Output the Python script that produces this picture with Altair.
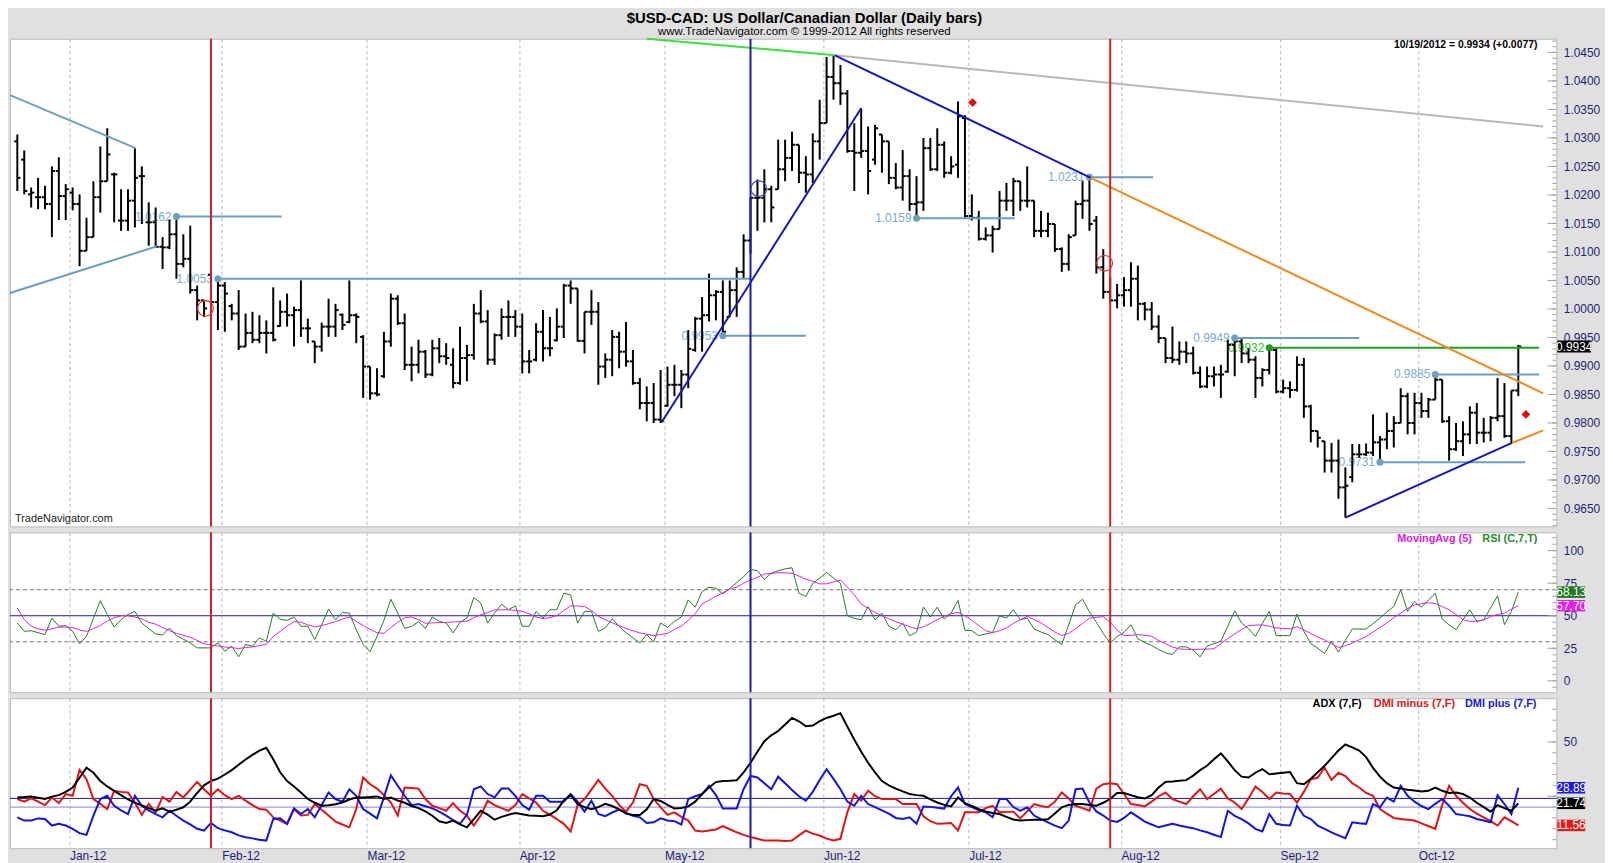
import json
import altair as alt
import pandas as pd

FONT = "Liberation Sans"
NAVY = "#1f1f78"
W = 1557
H_PRICE, H_RSI, H_ADX = 491, 161, 151
XDOM = [-1.06, 222.5]

# ---------------- data (daily bars, 21-Dec-2011 .. 19-Oct-2012) ----------------
MONTH_LABELS = ["Jan-12", "Feb-12", "Mar-12", "Apr-12", "May-12", "Jun-12",
                "Jul-12", "Aug-12", "Sep-12", "Oct-12"]
MONTH_START = [8, 30, 51, 73, 94, 117, 138, 160, 183, 203]

HIGH = [
1.0306,1.0278,1.0213,1.0230,1.0216,1.0250,1.0266,1.0219,1.0213,1.0201,
1.0160,1.0224,1.0285,1.0317,1.0239,1.0210,1.0210,1.0282,1.0250,1.0187,
1.0178,1.0126,1.0157,1.0162,1.0131,1.0146,1.0041,1.0015,1.0070,1.0053,
1.0047,1.0009,1.0033,0.9992,0.9995,0.9989,0.9980,1.0038,1.0015,1.0027,
1.0004,1.0050,0.9983,0.9943,0.9976,1.0018,1.0009,0.9992,1.0050,0.9992,
0.9954,0.9899,0.9896,0.9960,1.0027,1.0024,0.9992,0.9934,0.9946,0.9928,
0.9946,0.9949,0.9940,0.9931,0.9969,0.9937,1.0009,1.0033,0.9998,0.9957,
1.0001,1.0015,0.9998,0.9992,0.9928,0.9975,0.9998,0.9986,1.0001,1.0044,
1.0050,1.0036,0.9995,1.0033,1.0012,0.9922,0.9963,0.9960,0.9977,0.9928,
0.9879,0.9864,0.9870,0.9893,0.9899,0.9902,0.9893,0.9963,0.9986,1.0021,
1.0062,1.0033,1.0050,1.0050,1.0073,1.0131,1.0195,1.0227,1.0245,1.0216,
1.0297,1.0297,1.0311,1.0288,1.0268,1.0308,1.0367,1.0442,1.0445,1.0428,
1.0384,1.0326,1.0352,1.0320,1.0323,1.0306,1.0294,1.0256,1.0279,1.0245,
1.0233,1.0300,1.0300,1.0317,1.0294,1.0268,1.0364,1.0340,1.0201,1.0172,
1.0143,1.0146,1.0207,1.0221,1.0230,1.0224,1.0250,1.0190,1.0172,1.0169,
1.0149,1.0108,1.0131,1.0190,1.0224,1.0231,1.0163,1.0105,1.0056,1.0044,
1.0056,1.0082,1.0076,1.0012,1.0012,0.9989,0.9949,0.9969,0.9943,0.9943,
0.9934,0.9899,0.9899,0.9899,0.9902,0.9946,0.9949,0.9949,0.9931,0.9917,
0.9896,0.9932,0.9931,0.9876,0.9873,0.9917,0.9914,0.9832,0.9786,0.9768,
0.9765,0.9771,0.9722,0.9763,0.9763,0.9764,0.9815,0.9777,0.9818,0.9812,
0.9861,0.9853,0.9853,0.9853,0.9844,0.9885,0.9876,0.9812,0.9800,0.9803,
0.9829,0.9835,0.9809,0.9812,0.9879,0.9870,0.9857,0.9937]

LOW = [
1.0207,1.0201,1.0178,1.0175,1.0175,1.0126,1.0156,1.0156,1.0173,1.0075,
1.0102,1.0126,1.0169,1.0224,1.0152,1.0137,1.0137,1.0143,1.0149,1.0111,
1.0108,1.0070,1.0105,1.0053,1.0073,1.0027,0.9980,0.9986,1.0009,0.9963,
0.9960,0.9980,0.9928,0.9934,0.9940,0.9940,0.9922,0.9943,0.9969,0.9969,
0.9934,0.9951,0.9940,0.9905,0.9925,0.9951,0.9951,0.9963,0.9975,0.9940,
0.9844,0.9841,0.9847,0.9879,0.9934,0.9972,0.9893,0.9873,0.9887,0.9879,
0.9882,0.9905,0.9902,0.9861,0.9867,0.9873,0.9911,0.9975,0.9902,0.9902,
0.9946,0.9951,0.9951,0.9887,0.9887,0.9908,0.9908,0.9917,0.9943,0.9949,
1.0009,0.9943,0.9922,0.9972,0.9867,0.9879,0.9882,0.9896,0.9899,0.9867,
0.9824,0.9803,0.9800,0.9800,0.9829,0.9847,0.9826,0.9861,0.9925,0.9925,
0.9978,0.9980,0.9953,0.9986,0.9986,1.0053,1.0097,1.0137,1.0152,1.0152,
1.0210,1.0224,1.0242,1.0221,1.0204,1.0221,1.0262,1.0326,1.0367,1.0358,
1.0274,1.0207,1.0265,1.0201,1.0253,1.0239,1.0219,1.0210,1.0190,1.0172,
1.0159,1.0172,1.0242,1.0242,1.0230,1.0236,1.0230,1.0160,1.0155,1.0120,
1.0120,1.0099,1.0140,1.0172,1.0163,1.0172,1.0178,1.0126,1.0126,1.0126,
1.0100,1.0065,1.0067,1.0129,1.0158,1.0137,1.0062,1.0018,1.0012,1.0001,
1.0004,1.0004,0.9980,0.9980,0.9963,0.9940,0.9905,0.9905,0.9902,0.9905,
0.9885,0.9861,0.9861,0.9864,0.9844,0.9888,0.9882,0.9905,0.9905,0.9844,
0.9864,0.9885,0.9852,0.9852,0.9844,0.9855,0.9809,0.9766,0.9757,0.9713,
0.9713,0.9667,0.9634,0.9696,0.9739,0.9742,0.9742,0.9731,0.9754,0.9757,
0.9800,0.9780,0.9780,0.9809,0.9809,0.9841,0.9800,0.9734,0.9751,0.9742,
0.9763,0.9763,0.9766,0.9768,0.9803,0.9774,0.9764,0.9847]

OPEN = [
1.0294,1.0262,1.0201,1.0196,1.0196,1.0184,1.0242,1.0198,1.0204,1.0184,
1.0102,1.0126,1.0196,1.0224,1.0236,1.0155,1.0155,1.0190,1.0233,1.0152,
1.0152,1.0109,1.0108,1.0131,1.0079,1.0088,1.0033,1.0015,1.0060,1.0012,
1.0041,1.0005,0.9992,0.9934,0.9958,0.9946,0.9958,0.9958,0.9970,0.9995,
0.9989,0.9998,0.9966,0.9943,0.9934,0.9969,0.9969,0.9990,0.9977,0.9989,
0.9951,0.9899,0.9852,0.9882,0.9943,1.0018,0.9975,0.9902,0.9902,0.9925,
0.9885,0.9931,0.9917,0.9902,0.9870,0.9914,0.9919,0.9992,0.9978,0.9911,
0.9954,0.9986,0.9986,0.9969,0.9908,0.9911,0.9960,0.9931,0.9945,0.9969,
1.0041,1.0036,0.9944,0.9995,0.9995,0.9899,0.9911,0.9951,0.9925,0.9908,
0.9870,0.9835,0.9835,0.9806,0.9830,0.9867,0.9867,0.9885,0.9928,0.9983,
0.9989,1.0024,1.0030,0.9986,1.0033,1.0065,1.0120,1.0195,1.0195,1.0210,
1.0210,1.0245,1.0265,1.0288,1.0239,1.0236,1.0294,1.0326,1.0407,1.0396,
1.0378,1.0277,1.0274,1.0277,1.0262,1.0306,1.0294,1.0230,1.0213,1.0233,
1.0184,1.0187,1.0282,1.0245,1.0288,1.0239,1.0253,1.0335,1.0163,1.0160,
1.0123,1.0129,1.0140,1.0190,1.0190,1.0224,1.0190,1.0190,1.0137,1.0137,
1.0149,1.0105,1.0079,1.0129,1.0184,1.0190,1.0155,1.0073,1.0030,1.0015,
1.0024,1.0033,1.0053,1.0009,0.9999,0.9969,0.9949,0.9914,0.9911,0.9925,
0.9922,0.9888,0.9864,0.9882,0.9885,0.9890,0.9937,0.9943,0.9922,0.9911,
0.9879,0.9893,0.9928,0.9855,0.9861,0.9858,0.9902,0.9829,0.9786,0.9768,
0.9734,0.9734,0.9687,0.9705,0.9745,0.9745,0.9748,0.9766,0.9771,0.9786,
0.9800,0.9847,0.9800,0.9835,0.9821,0.9841,0.9876,0.9803,0.9754,0.9768,
0.9780,0.9818,0.9783,0.9783,0.9809,0.9812,0.9777,0.9857]

CLOSE = [
1.0230,1.0207,1.0204,1.0196,1.0184,1.0242,1.0198,1.0210,1.0184,1.0102,
1.0126,1.0196,1.0224,1.0271,1.0236,1.0155,1.0190,1.0230,1.0233,1.0152,
1.0109,1.0108,1.0131,1.0079,1.0088,1.0033,1.0015,1.0001,1.0012,1.0041,
1.0027,0.9992,0.9934,0.9958,0.9946,0.9958,0.9958,0.9946,0.9995,0.9989,
0.9998,0.9966,0.9966,0.9934,0.9969,0.9969,0.9998,0.9972,0.9989,0.9986,
0.9899,0.9852,0.9850,0.9943,1.0018,0.9975,0.9902,0.9902,0.9925,0.9885,
0.9931,0.9917,0.9914,0.9870,0.9914,0.9919,0.9992,0.9978,0.9911,0.9954,
0.9986,0.9986,0.9969,0.9908,0.9908,0.9960,0.9931,0.9931,0.9969,1.0041,
1.0036,0.9944,0.9995,0.9995,0.9899,0.9911,0.9951,0.9925,0.9908,0.9870,
0.9835,0.9835,0.9806,0.9803,0.9867,0.9867,0.9885,0.9930,0.9983,0.9989,
1.0024,1.0030,0.9960,1.0033,1.0065,1.0120,1.0195,1.0195,1.0210,1.0178,
1.0245,1.0265,1.0288,1.0239,1.0236,1.0294,1.0326,1.0407,1.0396,1.0378,
1.0277,1.0274,1.0277,1.0242,1.0317,1.0294,1.0230,1.0213,1.0233,1.0184,
1.0187,1.0282,1.0245,1.0288,1.0239,1.0250,1.0338,1.0163,1.0160,1.0123,
1.0129,1.0140,1.0190,1.0190,1.0224,1.0190,1.0190,1.0137,1.0137,1.0149,
1.0105,1.0079,1.0126,1.0184,1.0190,1.0149,1.0073,1.0030,1.0015,1.0024,
1.0033,1.0053,1.0009,0.9999,0.9969,0.9949,0.9914,0.9911,0.9925,0.9922,
0.9888,0.9864,0.9882,0.9885,0.9885,0.9937,0.9943,0.9922,0.9911,0.9879,
0.9893,0.9928,0.9855,0.9861,0.9858,0.9902,0.9829,0.9786,0.9774,0.9734,
0.9734,0.9687,0.9690,0.9745,0.9745,0.9748,0.9766,0.9771,0.9786,0.9800,
0.9847,0.9800,0.9835,0.9821,0.9841,0.9876,0.9803,0.9754,0.9768,0.9780,
0.9818,0.9783,0.9783,0.9809,0.9812,0.9777,0.9857,0.9934]

RSI = [
44.4,38.0,38.5,37,35.5,48.2,41.9,42.4,38,28.4,
34.2,48,61.5,51,41.3,47,51,53.3,44.4,40,
36,35.2,40.6,34.7,32,29.1,25.3,25.3,25.3,29.1,
22.8,26.6,18.4,27.9,26.6,33.0,30.4,52.0,47.5,46.4,
49.0,41.9,41.9,31.7,43,55.1,46.9,52.5,52.0,39.3,
28,22.3,34,46.4,62.7,52,40.3,41.9,45.4,40.3,
49.0,45.7,44.4,36.8,45,48.2,64.0,59.7,44.4,52,
58.9,54.6,57.6,41.9,41.9,53.3,48.2,54.6,54.6,67.3,
66.0,44.4,53.3,53.3,38.0,40.6,47.7,41.9,37,33,
29.1,35.5,29.9,44.4,41.1,45.7,49.0,62.2,56.6,68.6,
71.9,71.1,66.8,71,75.4,80,85.6,84.6,78.0,82.6,
84.6,86,86.9,67.3,64.8,74.9,79,83.3,79,74.9,
50.0,48,46.9,57.1,46.9,52.0,41.9,39.3,44.4,34.7,
37.3,56.6,49.0,56.6,47.5,52.0,61.7,38.8,38.5,34.7,
36,37,50.0,48.2,54.6,46.9,48.2,39.8,37.5,35.5,
31.5,27.9,43,58.4,62.7,53,45,36.3,29.1,34,
37.3,43.1,32.2,29.5,27.1,24,21.5,20.2,26.1,26.1,
23.5,18.4,26.6,28.5,30.4,42,53.8,44.4,40,34.2,
44,53.3,34.7,34.7,34.7,51.3,38.0,28.6,25,21.0,
30.4,22.0,31,39.8,39.8,39.8,44,48.2,53,57.1,
69.8,53.3,60.9,56.6,62,67.3,47.5,43,39.3,47,
54.6,45.7,46.9,56,65.3,43.1,53.3,68.13]

RSI_MA = [
55.9,47,42,40,38.8,40,41.3,41.3,41,39,
38,40,42.5,46,48.5,50,50,49,47.5,45,
43.5,41,38.5,36.5,35,33.5,31,28.5,27.5,26.8,
26,25.5,24.8,25.5,26.1,27,28,34,38,42,
45.5,45,43,41.5,42.5,43.9,45.5,47.5,49,45.7,
42.5,39.5,37,36.5,41,45,48.5,49,47,44.2,
44.5,44.7,44.9,45.2,45.5,45.8,48.5,50.8,52.5,54.4,
54.6,54.6,54,53.5,51.5,49,47.8,48.5,50,54,
57.6,57.5,57.1,54,49.5,47,44.5,42.5,40.2,38.5,
36.8,35.8,34.7,35.5,36.5,39.5,42,46.5,51.5,59,
62,65,67.5,70.5,72,75,77.5,79.5,82,82.6,
83.1,83,82.6,80.5,78,76.5,74.5,74.5,76,77.5,
72,66,59,55.5,52.5,50,47.5,45.5,43.5,41.5,
40,41.5,44,47,49.5,51.5,52.6,50,46.5,42.5,
38.5,37,38.5,40.6,44,47,49.5,47,44.5,41,
37.5,34.7,36.5,40,44,48.2,48.8,49.3,45,39,
34.7,35,35.5,35,34.2,31,28.5,26,24.5,24.2,
24,24.2,24.4,24.6,28.5,32.5,36,39.5,42.4,42.8,
43,42,40.6,40.2,39.8,41.5,39,36.5,33.5,31.5,
28.5,25.5,27,29,31.5,34,37.5,41,44.5,48.5,
52,55.5,58.4,59.2,60,59.5,57,54.6,51,47,
45.7,45.7,46.7,49.5,51,52,55,57.70]

ADX = [
24.4,24.6,24.9,24.3,23.7,24.8,25.5,27,29,33.5,
38.1,35.8,32,29.5,27.5,25.5,23.5,22,20.8,19.5,
18.4,19.4,17.9,18.8,19.9,22.5,26.5,30,32,33.1,
35,37,39.5,41.9,44,46,47.3,42,36,32,
29.5,26.7,23.7,22,20.6,20.8,21.3,22.1,23.5,24.4,
24.4,24.6,24.9,23.7,24.4,23,22,20.5,19.5,18,
16,13.5,12.7,13.8,12,10.7,14.5,18.3,16.5,14.2,
15.5,16.5,17.3,16.7,16.1,16,15.8,16.6,18.5,23,
25.5,21.5,20,19,20,21.5,20.5,19,17,16.4,
16.4,19,23.7,22.8,21,19.4,19.6,20.3,22.5,26,
29,31.5,32,32.1,32.3,36,40.4,45.5,50.3,53,
55,58,61,59.5,57.2,57.5,59.5,61,62,63.2,
57,51.1,45.5,40.4,36,32,30,28.5,27.2,26,
25.5,25.2,23.5,22.1,21,20.3,24.4,21.8,20.5,19,
18,17.3,16.8,15.5,14.3,13.8,14,14.2,14.2,14.4,
17,19.9,21,21.4,21.4,21,20.6,22,23.7,26.5,
26.5,25.5,24.5,24,25.5,29,31.6,31.8,32.1,32.4,
34.5,37,39,42,44.7,41,37,34,33.6,35.8,
37.5,35.1,35.5,35.8,36.1,31,30.5,33,36,39,
42.5,46,48.8,47.5,46,43,38,34,31,29,
28.5,28,27.6,27.2,27.5,29,27.5,26.5,26.7,26,
24.4,22,20,17.9,20.9,19.5,18.3,21.74]

DMI_MINUS = [
23.7,22.5,24.0,22.5,20.9,24.4,21.8,26.0,25.2,37.1,
32.8,23.7,21.5,19.1,27.5,27,26.7,22.1,16.4,21.4,
17.6,24.7,22.5,27.0,24.4,28,31.6,28.2,25.2,28.2,
25.5,23.7,25.2,23,20.9,19.1,18.8,15.3,13.8,12.3,
19.1,16.1,16.4,21.4,18.8,16.1,13.3,12,10.7,19.1,
33.6,30.5,28.5,25.5,22.1,16.1,29.0,28.8,28.5,23.7,
20.6,19.5,18.3,21.8,18.3,16,11.5,16.1,22.9,20.9,
19.5,18.3,20.9,26.0,24,22.1,18.3,16.5,14.5,12.3,
8.8,20.9,23.7,28,32.5,28.5,25.2,21,17.9,22.1,
30.5,29.8,23.7,20,16.4,17.6,15.5,13.8,9.2,8.8,
9.2,9.7,11.2,9.8,8.4,7.2,6.2,5.4,4.6,4.6,
4.6,4.4,4.6,7,9.2,7.8,6.9,5.5,4.6,5.4,
17.6,26.0,22.9,27.5,25,23.7,23.7,23.7,21.4,21.4,
21.4,15.8,13.5,12.3,12.5,12.7,9.2,17.6,17.6,17.6,
19.5,20.6,17.6,17.8,17.9,14.8,18,21.4,20.5,19.9,
22.5,26.7,24,20.6,19.5,18.3,28.5,30.5,31,30.5,
26,21.4,21,20.3,22.5,25,26.7,23.7,22.5,21.4,
25,28.2,23.7,26,28.5,24,22.1,19.1,24,29.5,
27,23.7,26.7,26.3,26.0,22.1,27,32.8,33.6,38.1,
32.5,35.8,34.3,31,29,26.5,25.2,19.1,17,15,
14.5,14.2,13.8,12.5,11.3,10.0,21,29.8,25.2,22,
19.1,17,15.3,13.5,11.5,15.3,13.5,11.56]

DMI_PLUS = [
15.3,13.8,13.8,14.8,14.5,11.5,12.3,11.5,10,8,
7.2,16.1,23.7,25.2,20.6,18.5,16.8,25.2,20.6,18.5,
16.8,15.3,18.3,16,13.8,12,10,9.2,12.7,10.3,
9.3,8.4,7,6.1,5.6,5,4.6,14.5,14.8,12.3,
19.4,16.8,19.1,15.3,21,26.7,23.7,22.5,28.2,25.2,
19.1,17,14.8,24.5,34.6,29.8,25.2,20.9,21.4,20.4,
19.4,17.9,16.1,14,12.3,16.4,28.2,29.5,26,24.5,
28.5,28.5,25.2,20.9,18.8,25.2,25.2,22.5,22.5,22.5,
26.0,22.5,17.9,22.9,16.8,15.8,17.5,18.8,17.3,16,
15.3,12.7,13,14.8,13.8,13.5,12,23.7,25,26,
29.8,25.5,19.4,19.4,19.4,28.2,34.3,33.6,31,28.2,
34,31,27.9,25,22.9,27,32.5,37.4,33,28.2,
22.5,20.6,25.2,21.4,20,18.5,17,15,14.5,15.3,
12.3,20.3,20.1,19.7,19.3,25,29,21.4,20,18.5,
17.6,15.3,23.7,23.7,20,18.3,19.9,16.1,14.5,13,
11.5,10.3,13.8,28.2,28.5,22.1,18,16.1,13.8,13.2,
15,17.6,15.5,13.3,12,10.7,11.5,12.3,11.5,10.8,
10.3,9.3,8.4,7.3,6.2,18.3,16,14.5,12.5,10,
8.8,16.8,12.3,11.8,11.5,20.6,16,14.5,11.5,10,
8.4,7,5.7,13,12.6,12.3,21.4,19.9,24.4,22.5,
29.8,25.2,22.5,20.5,19.1,21.5,23.7,20.6,16.8,16.3,
15.8,14.5,13.8,13,25.5,21.4,16.8,28.89]

# support / resistance levels drawn on the price panel
LEVEL_VALUE = [1.0162, 1.0053, 0.9953, 1.0159, 1.0231, 0.9949, 0.9932, 0.9885, 0.9731]
LEVEL_START = [23, 29, 102, 130, 155, 176, 181, 205, 197]
LEVEL_END = [38.2, 106, 114, 144.2, 164.2, 194, 220, 220, 218]
LEVEL_GREEN = [False, False, False, False, False, False, True, False, False]

# trend lines (bar index, price)
TL_X1 = [-1.06, -1.06, 91.0, 118.2, 93.2, 118.2, 192.0, 155.2, 216.1]
TL_Y1 = [1.0375, 1.0028, 1.0474, 1.0445, 0.9802, 1.0445, 0.9634, 1.0230, 0.9765]
TL_X2 = [17.1, 20.2, 118.2, 220.6, 122.0, 155.2, 216.1, 220.6, 220.6]
TL_Y2 = [1.0282, 1.0110, 1.0445, 1.0320, 1.0352, 1.0230, 0.9765, 0.9852, 0.9787]
TL_COLOR = ["#6b9ec3", "#6b9ec3", "#3de03d", "#b8b8b8", "#1414c4", "#1414c4",
            "#1414c4", "#f08a1c", "#f08a1c"]

VLINE_X = [28, 106, 158]
VLINE_COLOR = ["#cc2222", "#1a1ab4", "#cc2222"]

CIRCLE_X = [27.2, 107.2, 157.2]
CIRCLE_Y = [1.0001, 1.0211, 1.0080]
CIRCLE_COLOR = ["#e03030", "#4646c8", "#e03030"]

DIAMOND_X = [138.1, 218.1]
DIAMOND_Y = [1.0362, 0.9815]

# ---------------- frames ----------------
n = len(CLOSE)
bars = pd.DataFrame({"i": list(range(n)), "o": OPEN, "h": HIGH, "l": LOW, "c": CLOSE})
ind = pd.DataFrame({"i": list(range(n)), "rsi": RSI, "ma": RSI_MA, "adx": ADX,
                    "dmim": DMI_MINUS, "dmip": DMI_PLUS})
levels = pd.DataFrame({
    "v": LEVEL_VALUE, "s": LEVEL_START, "e": LEVEL_END,
    "t": ["%.4f" % v for v in LEVEL_VALUE],
    "lc": ["#1ea01e" if g else "#6b9ec3" for g in LEVEL_GREEN],
    "tc": ["#2ec02e" if g else "#78aad0" for g in LEVEL_GREEN],
})
trend = pd.DataFrame({"x1": TL_X1, "y1": TL_Y1, "x2": TL_X2, "y2": TL_Y2, "col": TL_COLOR})
vlines = pd.DataFrame({"x": VLINE_X, "col": VLINE_COLOR})
circles = pd.DataFrame({"x": CIRCLE_X, "y": CIRCLE_Y, "col": CIRCLE_COLOR})
diamonds = pd.DataFrame({"x": DIAMOND_X, "y": DIAMOND_Y})

xs = alt.Scale(domain=XDOM, nice=False, zero=False)
ys_price = alt.Scale(domain=[0.96186, 1.0474], nice=False, zero=False)
ys_rsi = alt.Scale(domain=[-8.8, 114.1], nice=False, zero=False)
ys_adx = alt.Scale(domain=[1.1, 70.1], nice=False, zero=False)

grid_vals = [m - 0.45 for m in MONTH_START]
label_expr = "%s[indexof(%s, round(datum.value + 0.45))]" % (
    json.dumps(MONTH_LABELS), json.dumps(MONTH_START))


def x_axis(show):
    return alt.Axis(values=grid_vals, grid=True, gridDash=[3, 3], gridColor="#b4b4b4",
                    gridWidth=1, ticks=False, domain=False, title=None, labels=show,
                    labelExpr=label_expr, labelAlign="left", labelBaseline="top",
                    labelColor=NAVY, labelFont=FONT, labelFontSize=12, labelPadding=2,
                    labelOverlap=False, labelFlush=False)


def y_axis(values, fmt):
    return alt.Axis(orient="right", values=values, format=fmt, title=None, grid=False,
                    ticks=False, domain=False, labelColor=NAVY, labelFont=FONT,
                    labelFontSize=12, labelPadding=7, labelOverlap=False, labelFlush=False)


PRICE_MAJOR = [round(0.965 + 0.005 * k, 4) for k in range(17)]
PRICE_MINOR = [round(0.962 + 0.001 * k, 4) for k in range(86)]

XA_TOP = x_axis(False)
XA_BOTTOM = x_axis(True)
YA_PRICE = y_axis(PRICE_MAJOR, ".4f")
YA_RSI = y_axis([0, 25, 50, 75, 100], "d")
YA_ADX = y_axis([50], "d")


def X(field, xa):
    return alt.X(field, scale=xs, axis=xa)


def inner_ticks(values, length, ys, ya):
    d = pd.DataFrame({"v": values})
    return alt.Chart(d).mark_rule(color="#a0a0a0", strokeWidth=1).encode(
        x=alt.value(W - length), x2=alt.value(W),
        y=alt.Y("v:Q", scale=ys, axis=ya))


def value_boxes(vals, texts, colors, half, ys, ya, width):
    d = pd.DataFrame({"v": vals, "t": texts, "col": colors})
    base = alt.Chart(d).transform_calculate(y0="datum.v - %f" % half, y1="datum.v + %f" % half)
    box = base.mark_rect().encode(
        x=alt.value(W + 1), x2=alt.value(W + 1 + width),
        y=alt.Y("y0:Q", scale=ys, axis=ya), y2="y1:Q",
        color=alt.Color("col:N", scale=None))
    txt = alt.Chart(d).mark_text(color="white", font=FONT, fontSize=12, align="center",
                                 baseline="middle").encode(
        x=alt.value(W + 1 + width / 2), y=alt.Y("v:Q", scale=ys, axis=ya), text="t:N")
    return [box, txt]


def vline_layer(xa):
    return alt.Chart(vlines).mark_rule(strokeWidth=2).encode(
        x=X("x:Q", xa), color=alt.Color("col:N", scale=None))


def legend_text(items, y):
    layers = []
    for txt, xr, col in items:
        layers.append(alt.Chart(pd.DataFrame({"t": [txt]})).mark_text(
            align="right", baseline="middle", font=FONT, fontSize=11, fontWeight="bold",
            color=col).encode(x=alt.value(xr), y=alt.value(y), text="t:N"))
    return layers


# ---------------- price panel ----------------
def PY(field):
    return alt.Y(field, scale=ys_price, axis=YA_PRICE)


lvl_text = alt.Chart(levels).mark_text(align="right", baseline="middle", dx=-5,
                                       font=FONT, fontSize=12).encode(
    x=X("s:Q", XA_TOP), y=PY("v:Q"), text="t:N", color=alt.Color("tc:N", scale=None))
hl = alt.Chart(bars).mark_rule(color="black", strokeWidth=2).encode(
    x=X("i:Q", XA_TOP), y=PY("l:Q"), y2="h:Q")
op = alt.Chart(bars).transform_calculate(xo="datum.i - 0.45").mark_rule(
    color="black", strokeWidth=2).encode(x=X("xo:Q", XA_TOP), x2="i:Q", y=PY("o:Q"))
cl = alt.Chart(bars).transform_calculate(xc="datum.i + 0.45").mark_rule(
    color="black", strokeWidth=2).encode(x=X("i:Q", XA_TOP), x2="xc:Q", y=PY("c:Q"))
lvl_lines = alt.Chart(levels).mark_rule(strokeWidth=2).encode(
    x=X("s:Q", XA_TOP), x2="e:Q", y=PY("v:Q"), color=alt.Color("lc:N", scale=None))
lvl_dots = alt.Chart(levels).mark_circle(size=50, opacity=1).encode(
    x=X("s:Q", XA_TOP), y=PY("v:Q"), color=alt.Color("lc:N", scale=None))
trend_lines = alt.Chart(trend).mark_rule(strokeWidth=2).encode(
    x=X("x1:Q", XA_TOP), x2="x2:Q", y=PY("y1:Q"), y2="y2:Q",
    color=alt.Color("col:N", scale=None))
circ = alt.Chart(circles).mark_point(filled=False, size=250, strokeWidth=1.2, opacity=1).encode(
    x=X("x:Q", XA_TOP), y=PY("y:Q"), color=alt.Color("col:N", scale=None))
diam = alt.Chart(diamonds).mark_point(shape="diamond", filled=True, size=80, color="#e01010",
                                       opacity=1).encode(x=X("x:Q", XA_TOP), y=PY("y:Q"))
hdr = alt.Chart(pd.DataFrame({"t": ["10/19/2012 = 0.9934 (+0.0077)"]})).mark_text(
    align="right", baseline="middle", font=FONT, fontSize=10.5, fontWeight="bold",
    color="black").encode(x=alt.value(W - 19), y=alt.value(6), text="t:N")
tn = alt.Chart(pd.DataFrame({"t": ["TradeNavigator.com"]})).mark_text(
    align="left", baseline="middle", font=FONT, fontSize=11, color="#222222").encode(
    x=alt.value(5), y=alt.value(H_PRICE - 7), text="t:N")

price_layers = [lvl_text, hl, op, cl, lvl_lines, lvl_dots, trend_lines, vline_layer(XA_TOP),
                circ, diam, inner_ticks(PRICE_MINOR, 4, ys_price, YA_PRICE),
                inner_ticks(PRICE_MAJOR, 9, ys_price, YA_PRICE), hdr, tn]
price_layers += value_boxes([CLOSE[-1]], ["%.4f" % CLOSE[-1]], ["#000000"], 0.00105,
                            ys_price, YA_PRICE, 34)
price = alt.layer(*price_layers).properties(width=W, height=H_PRICE)


# ---------------- RSI panel ----------------
def RY(field):
    return alt.Y(field, scale=ys_rsi, axis=YA_RSI)


rsi_mid = alt.Chart(pd.DataFrame({"v": [50]})).mark_rule(color="#1a1a8c", strokeWidth=1).encode(
    y=RY("v:Q"))
rsi_band = alt.Chart(pd.DataFrame({"v": [30, 70]})).mark_rule(
    color="#707070", strokeWidth=1, strokeDash=[4, 3]).encode(y=RY("v:Q"))
rsi_line = alt.Chart(ind).mark_line(color="#1f7f1f", strokeWidth=1).encode(
    x=X("i:Q", XA_TOP), y=RY("rsi:Q"))
ma_line = alt.Chart(ind).mark_line(color="#e020e0", strokeWidth=1).encode(
    x=X("i:Q", XA_TOP), y=RY("ma:Q"))
rsi_layers = [rsi_mid, rsi_band, rsi_line, ma_line, vline_layer(XA_TOP),
              inner_ticks(list(range(-5, 111, 5)), 4, ys_rsi, YA_RSI),
              inner_ticks([0, 25, 50, 75, 100], 9, ys_rsi, YA_RSI)]
rsi_layers += value_boxes([RSI[-1], RSI_MA[-1]], ["%.2f" % RSI[-1], "%.2f" % RSI_MA[-1]],
                          ["#1c7c1c", "#e21fe2"], 4.4, ys_rsi, YA_RSI, 28)
rsi_layers += legend_text([("MovingAvg (5)", 1472, "#e020e0"), ("RSI (C,7,T)", 1538, "#2a8a2a")], 7)
rsi = alt.layer(*rsi_layers).properties(width=W, height=H_RSI)


# ---------------- ADX / DMI panel ----------------
def AY(field):
    return alt.Y(field, scale=ys_adx, axis=YA_ADX)


adx_ref1 = alt.Chart(pd.DataFrame({"v": [24]})).mark_rule(color="#1a1a8c", strokeWidth=1).encode(
    y=AY("v:Q"))
adx_ref2 = alt.Chart(pd.DataFrame({"v": [20]})).mark_rule(color="#8484d4", strokeWidth=1).encode(
    y=AY("v:Q"))
dmim_line = alt.Chart(ind).mark_line(color="#e01414", strokeWidth=2).encode(
    x=X("i:Q", XA_BOTTOM), y=AY("dmim:Q"))
dmip_line = alt.Chart(ind).mark_line(color="#1414e0", strokeWidth=2).encode(
    x=X("i:Q", XA_BOTTOM), y=AY("dmip:Q"))
adx_line = alt.Chart(ind).mark_line(color="#000000", strokeWidth=2).encode(
    x=X("i:Q", XA_BOTTOM), y=AY("adx:Q"))
adx_layers = [adx_ref1, adx_ref2, dmim_line, dmip_line, adx_line, vline_layer(XA_BOTTOM),
              inner_ticks(list(range(5, 70, 5)), 4, ys_adx, YA_ADX),
              inner_ticks([25, 50], 9, ys_adx, YA_ADX)]
adx_layers += value_boxes([DMI_PLUS[-1], ADX[-1], DMI_MINUS[-1]],
                          ["%.2f" % DMI_PLUS[-1], "%.2f" % ADX[-1], "%.2f" % DMI_MINUS[-1]],
                          ["#1a1ae6", "#000000", "#e41b1b"], 2.65, ys_adx, YA_ADX, 28)
adx_layers += legend_text([("ADX (7,F)", 1361, "#000000"), ("DMI minus (7,F)", 1455, "#e01414"),
                           ("DMI plus (7,F)", 1537, "#1414e0")], 6)
adx = alt.layer(*adx_layers).properties(width=W, height=H_ADX)

chart = alt.vconcat(price, rsi, adx, spacing=2).properties(
    title=alt.TitleParams(
        text="$USD-CAD:  US Dollar/Canadian Dollar  (Daily bars)",
        subtitle="www.TradeNavigator.com \u00a9 1999-2012 All rights reserved",
        anchor="middle", font=FONT, fontSize=15, fontWeight="bold", color="black",
        lineHeight=16, subtitleFont=FONT, subtitleFontSize=11.5, subtitleColor="black",
        subtitleLineHeight=12, subtitlePadding=0, offset=0),
    padding={"left": 0, "top": 0, "right": 4, "bottom": 0},
    background="#e0e0e0",
).configure_view(fill="white", stroke="#b8b8b8")

chart.save("out.html", embed_options={"renderer": "svg", "actions": False})
